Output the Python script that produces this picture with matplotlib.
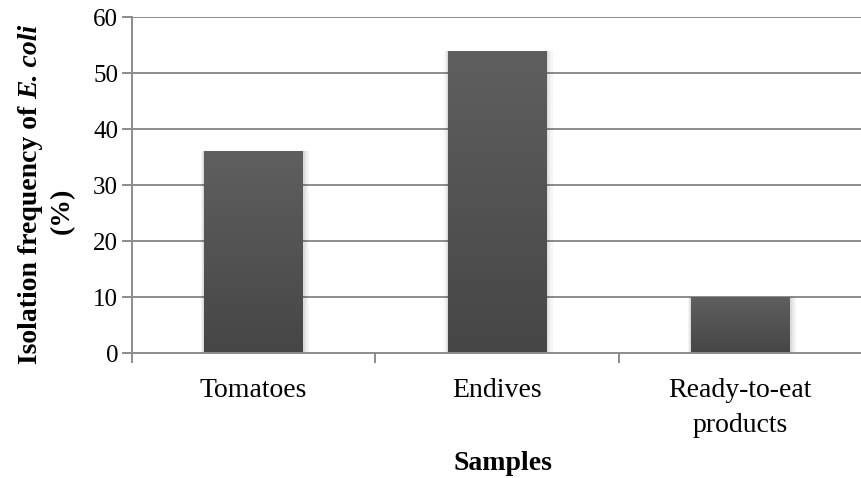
import matplotlib
matplotlib.use("Agg")
import matplotlib.pyplot as plt
import numpy as np
from matplotlib.colors import LinearSegmentedColormap

categories = ["Tomatoes", "Endives", "Ready-to-eat\nproducts"]
values = [36, 54, 10]
yticks = [0, 10, 20, 30, 40, 50, 60]

plt.rcParams['font.family'] = ['Liberation Serif', 'DejaVu Serif']

W, H = 862, 478
fig = plt.figure(figsize=(W/100, H/100), dpi=100)
ax = fig.add_axes([132/W, 1-353/H, (862-132)/W, (353-17)/H])

x = np.arange(len(categories))
cat_px = 247.0
bw = 100/cat_px
grid_c = '#8c8c8c'
xlim = (-0.5, -0.5 + 730/cat_px)

for t in yticks[1:]:
    ax.axhline(t, color=grid_c, lw=1.4, zorder=1)

# soft shadow around bars
for off, a in [(0.020, 0.04), (0.013, 0.05), (0.007, 0.06)]:
    ax.bar(x + off * 0.3, [v + off * 6 for v in values], width=bw + 2 * off,
           bottom=-off * 6, color='#000000', alpha=a, zorder=2, linewidth=0)

bars = ax.bar(x, values, width=bw, color='#535353', zorder=3, linewidth=0)
grad = np.linspace(0, 1, 256).reshape(-1, 1)
cmap = LinearSegmentedColormap.from_list('g', ['#464646', '#5f5f5f'])
for b in bars:
    x0, y0 = b.get_x(), b.get_y()
    im = ax.imshow(grad, extent=[x0, x0 + b.get_width(), y0, y0 + b.get_height()],
                   origin='lower', cmap=cmap, aspect='auto', zorder=4)
    im.set_clip_path(b)
ax.set_xlim(*xlim)
ax.set_ylim(0, 60)
ax.set_yticks(yticks)

for s in ['top', 'right']:
    ax.spines[s].set_visible(False)
for s in ['left', 'bottom']:
    ax.spines[s].set_color(grid_c)
    ax.spines[s].set_linewidth(1.4)
    ax.spines[s].set_zorder(5)

ax.set_xticks(x)
ax.set_xticklabels(categories, fontsize=20, linespacing=1.5)
ax.set_xticks(np.arange(-0.5, len(categories) - 0.5 + 0.01, 1), minor=True)
ax.tick_params(axis='x', which='major', length=0, pad=18)
ax.tick_params(axis='x', which='minor', length=7, width=1.4, color=grid_c)
ax.tick_params(axis='y', length=7, width=1.4, color=grid_c, labelsize=18, pad=3)

# y-axis title: bold with bold-italic species name
base_x = 37 / W
start_y = 1 - 364 / H
t1 = fig.text(base_x, start_y, "Isolation frequency of", rotation=90,
              rotation_mode='anchor', ha='left', va='baseline',
              fontsize=20, fontweight='bold')
fig.canvas.draw()
L1 = t1.get_window_extent().height
space = 0.25 * 20 * 100 / 72
fig.text(base_x, start_y + (L1 + space) / H, "E. coli", rotation=90,
         rotation_mode='anchor', ha='left', va='baseline',
         fontsize=20, fontweight='bold', style='italic')
fig.text(62/W, 1-211/H, "(%)", rotation=90, ha='center', va='center',
         fontsize=20, fontweight='bold')
fig.text(503/W, 1-463/H, "Samples", ha='center', va='center',
         fontsize=20, fontweight='bold')

fig.savefig("out.png", dpi=100)
